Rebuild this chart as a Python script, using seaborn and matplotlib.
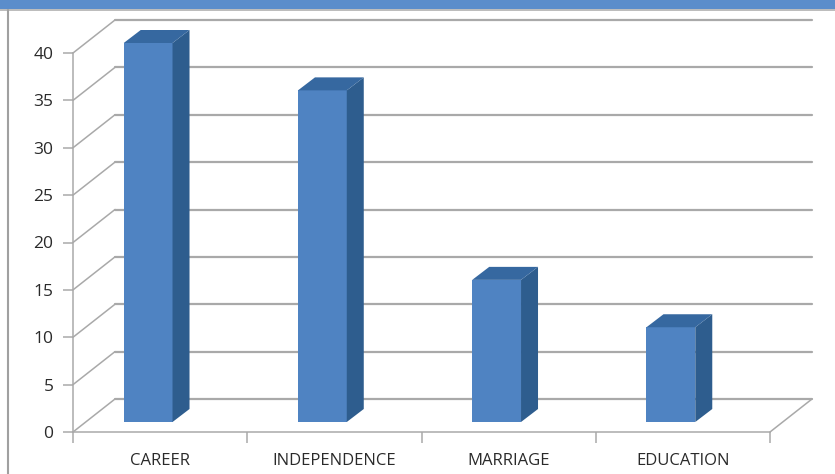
import numpy as np
import matplotlib
matplotlib.use("Agg")
import matplotlib.pyplot as plt
from matplotlib.patches import Polygon, Rectangle
from matplotlib.lines import Line2D
import pandas as pd
import seaborn as sns

# data
categories = ["CAREER", "INDEPENDENCE", "MARRIAGE", "EDUCATION"]
values = [40, 35, 15, 10]
yticks = [0, 5, 10, 15, 20, 25, 30, 35, 40]

front_col = "#4f83c2"
side_col = "#2e5d8e"
top_col = "#3668a0"
grid_col = "#a9a9a9"

sns.set_style("white")
plt.rcParams["font.family"] = ["Open Sans", "DejaVu Sans"]

W, H, DPI = 835, 474, 100
fig = plt.figure(figsize=(W / DPI, H / DPI), dpi=DPI)
fig.patch.set_facecolor("white")

# front plane of the axes in pixels
x0px, x1px = 73, 770
y0px, y1px = 432, 53
ax = fig.add_axes([x0px / W, (H - y0px) / H, (x1px - x0px) / W, (y0px - y1px) / H])
ax.set_xlim(-0.5, 3.5)
ax.set_ylim(0, 40)
ax.set_facecolor("none")

ppx = (x1px - x0px) / 4.0   # pixels per x unit
ppy = (y0px - y1px) / 40.0  # pixels per y unit
wall_dx, wall_dy = 42 / ppx, 33 / ppy
bar_dx, bar_dy = 17 / ppx, 13 / ppy

df = pd.DataFrame({"cat": categories, "val": values})
sns.barplot(data=df, x="cat", y="val", color=front_col, width=0.28,
            saturation=1, ax=ax, zorder=4)

# back wall gridlines and left wall diagonals
for v in yticks:
    ax.plot([-0.5 + wall_dx, 3.5 + wall_dx], [v + wall_dy, v + wall_dy],
            color=grid_col, lw=1.6, clip_on=False, zorder=1)
    ax.plot([-0.5, -0.5 + wall_dx], [v, v + wall_dy],
            color=grid_col, lw=1.1, clip_on=False, zorder=1)
# floor right edge
ax.plot([3.5, 3.5 + wall_dx], [0, wall_dy], color=grid_col, lw=1.1,
        clip_on=False, zorder=1)

# give the bars depth
shift_x = -12 / ppx
lift = 10 / ppy
for p in ax.patches:
    p.set_x(p.get_x() + shift_x)
    p.set_y(lift)
    p.set_clip_on(False)
    x = p.get_x()
    w = p.get_width()
    yb = lift
    yt = lift + p.get_height()
    side = Polygon([(x + w, yb), (x + w + bar_dx, yb + bar_dy),
                    (x + w + bar_dx, yt + bar_dy), (x + w, yt)],
                   closed=True, fc=side_col, ec="none", clip_on=False, zorder=4)
    top = Polygon([(x, yt), (x + bar_dx, yt + bar_dy),
                   (x + w + bar_dx, yt + bar_dy), (x + w, yt)],
                  closed=True, fc=top_col, ec="none", clip_on=False, zorder=4)
    ax.add_patch(side)
    ax.add_patch(top)
    p.set_edgecolor("none")

for s in ["top", "right"]:
    ax.spines[s].set_visible(False)
for s in ["left", "bottom"]:
    ax.spines[s].set_color(grid_col)
    ax.spines[s].set_linewidth(1.1)
    ax.spines[s].set_zorder(2)

ax.set_yticks(yticks)
ax.set_xlabel("")
ax.set_ylabel("")
ax.tick_params(axis="y", length=7, width=1.1, color=grid_col, pad=7,
               labelsize=12.5, labelcolor="#2a2a2a", left=True)
ax.tick_params(axis="x", which="major", length=0, pad=15,
               labelsize=12, labelcolor="#2a2a2a")
ax.set_xticks([-0.5, 0.5, 1.5, 2.5, 3.5], minor=True)
ax.tick_params(axis="x", which="minor", length=8, width=1.1, color=grid_col,
               bottom=True)

# header strip and frame
fig.add_artist(Rectangle((0, 1 - 9 / H), 1, 9 / H, transform=fig.transFigure,
                         fc="#5b8dcb", ec="none"))
fig.add_artist(Line2D([0, 1], [1 - 10 / H, 1 - 10 / H], transform=fig.transFigure,
                      color="#b0b0b0", lw=1.2))
fig.add_artist(Line2D([8 / W, 8 / W], [0, 1 - 10 / H], transform=fig.transFigure,
                      color="#a0a0a0", lw=1.5))

fig.savefig("out.png", dpi=DPI)
